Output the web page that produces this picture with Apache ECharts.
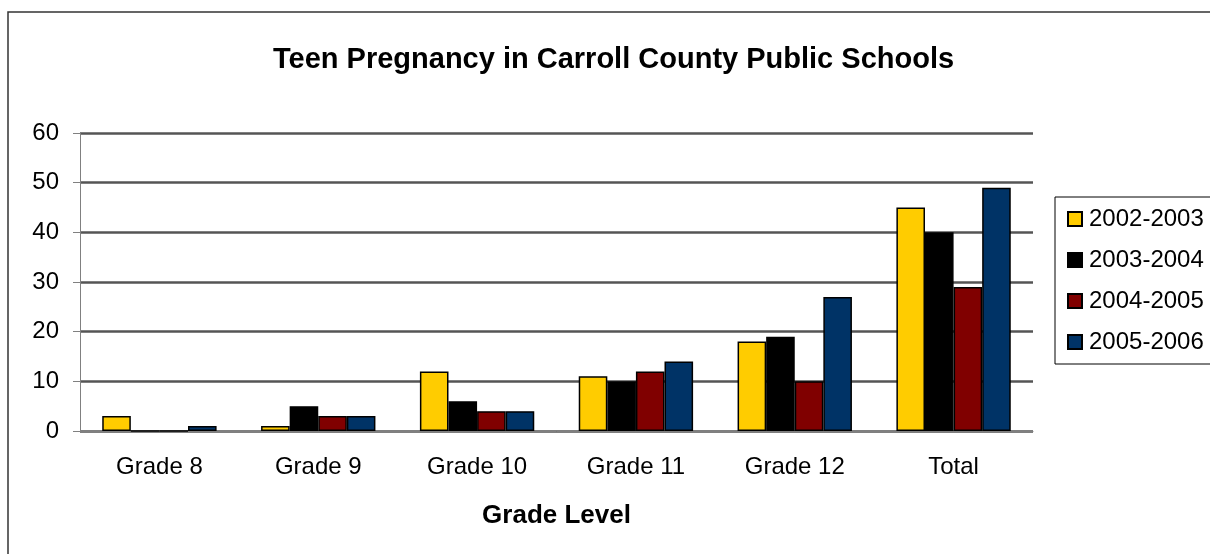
<!DOCTYPE html>
<html>
<head>
<meta charset="utf-8">
<title>Teen Pregnancy in Carroll County Public Schools</title>
<script src="https://cdn.jsdelivr.net/npm/echarts@6/dist/echarts.min.js"></script>
<style>
  html, body { margin: 0; padding: 0; background: #fff; }
  #chart { width: 1210px; height: 554px; }
</style>
</head>
<body>
<div id="chart"></div>
<script>
// 分类与数据
const grades = ["Grade 8", "Grade 9", "Grade 10", "Grade 11", "Grade 12", "Total"];
const years = ["2002-2003", "2003-2004", "2004-2005", "2005-2006"];
const y2002 = [3, 1, 12, 11, 18, 45];
const y2003 = [0, 5, 6, 10, 19, 40];
const y2004 = [0, 3, 4, 12, 10, 29];
const y2005 = [1, 3, 4, 14, 27, 49];
const yTicks = [0, 10, 20, 30, 40, 50, 60];

const colors = ["#ffcc00", "#000000", "#800000", "#003366"];
const seriesData = [y2002, y2003, y2004, y2005];
const font = "Liberation Sans, Arial, sans-serif";

const myChart = echarts.init(document.getElementById("chart"));

const option = {
  backgroundColor: "#fff",
  animation: false,
  textStyle: { fontFamily: font, color: "#000" },
  // 外框
  graphic: [
    {
      type: "rect",
      shape: { x: 8, y: 12, width: 1300, height: 700 },
      style: { fill: "none", stroke: "#333", lineWidth: 1.5 },
      silent: true,
      z: -1
    }
  ],
  title: {
    text: "Teen Pregnancy in Carroll County Public Schools",
    left: 268,
    top: 40,
    textStyle: { fontFamily: font, fontSize: 29, fontWeight: "bold", color: "#000" }
  },
  legend: {
    data: years,
    orient: "vertical",
    left: 1055,
    top: 197,
    padding: [10, 20, 10, 12],
    borderColor: "#000",
    borderWidth: 1,
    itemWidth: 14,
    itemHeight: 14,
    itemGap: 17,
    icon: "rect",
    textStyle: { fontFamily: font, fontSize: 24, lineHeight: 24, color: "#000", padding: [0, 0, 0, 2] }
  },
  grid: { left: 80, right: 177, top: 133, bottom: 123 },
  xAxis: {
    type: "category",
    data: grades,
    name: "Grade Level",
    nameLocation: "middle",
    nameGap: 72,
    nameTextStyle: { fontFamily: font, fontSize: 26, fontWeight: "bold", color: "#000" },
    axisLine: { lineStyle: { color: "#808080", width: 1 } },
    axisTick: { length: 8, lineStyle: { color: "#808080" } },
    axisLabel: { fontFamily: font, fontSize: 24, color: "#000", margin: 24 }
  },
  yAxis: {
    type: "value",
    min: yTicks[0],
    max: yTicks[yTicks.length - 1],
    interval: 10,
    axisLine: { show: true, lineStyle: { color: "#808080", width: 1 } },
    axisTick: { show: true, length: 7, lineStyle: { color: "#808080" } },
    axisLabel: { fontFamily: font, fontSize: 24, color: "#000", margin: 21 },
    splitLine: { lineStyle: { color: "#555", width: 2.5 } }
  },
  series: years.map((name, i) => ({
    name: name,
    type: "bar",
    data: seriesData[i],
    barGap: "0%",
    barCategoryGap: "28%",
    itemStyle: { color: colors[i], borderColor: "#000", borderWidth: 1.5 }
  }))
};

myChart.setOption(option);
</script>
</body>
</html>
